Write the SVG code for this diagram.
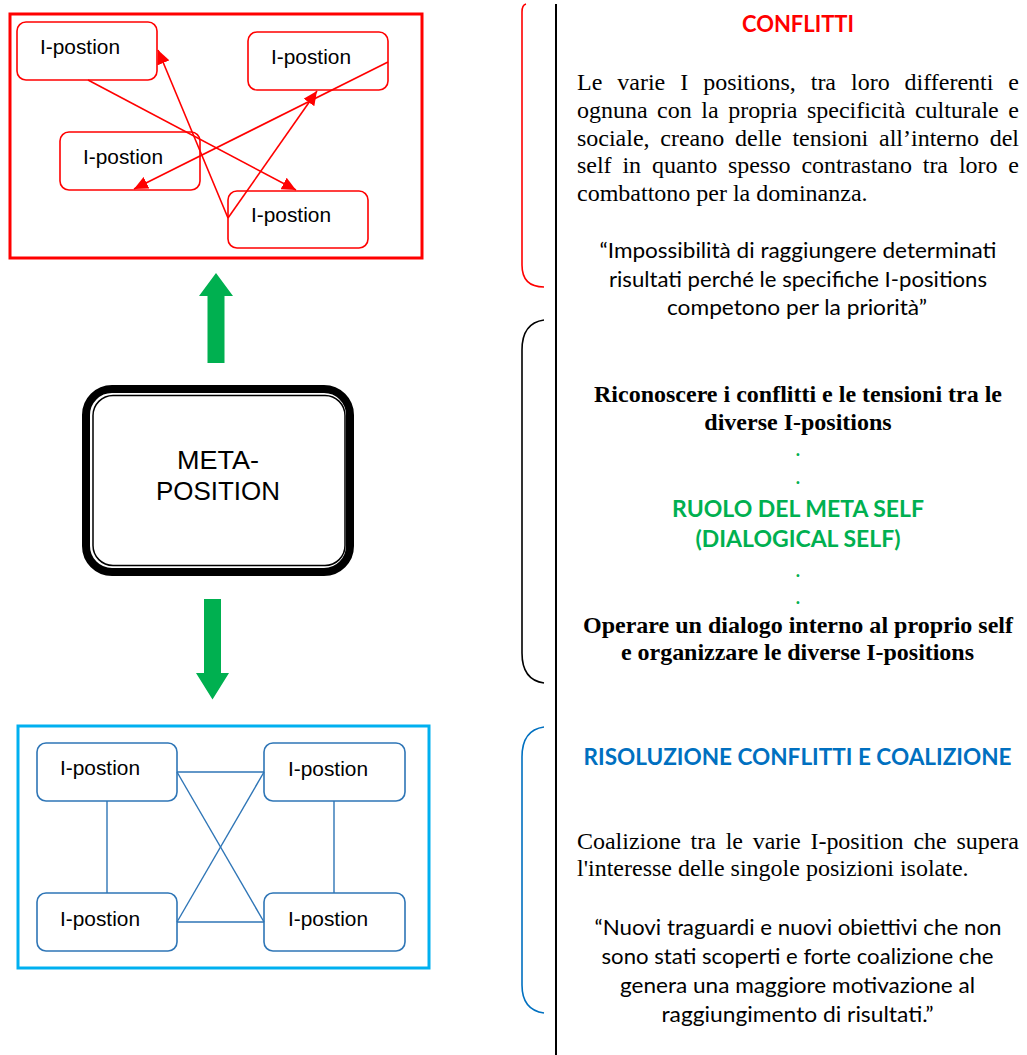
<svg xmlns="http://www.w3.org/2000/svg" width="1027" height="1055" viewBox="0 0 1027 1055">
<defs>
<style>
.rn{fill:#fff;stroke:#FF0000;stroke-width:1.6}
.bn{fill:#fff;stroke:#2E75B6;stroke-width:1.6}
.nt{font-family:"Liberation Sans",Arial,sans-serif;font-size:19.5px;fill:#000}
.rc{stroke:#FF0000;stroke-width:1.6;fill:none}
.bc{stroke:#2E75B6;stroke-width:1.4;fill:none}
.ser{font-family:"Liberation Serif","Times New Roman",serif;font-size:24px;fill:#000}
.serb{font-family:"Liberation Serif","Times New Roman",serif;font-size:24px;font-weight:bold;fill:#000;text-anchor:middle}
.cal{font-family:Lato,"Open Sans",sans-serif;font-size:22px;fill:#000;text-anchor:middle}
.calb{font-family:Lato,"Open Sans",sans-serif;font-size:22px;font-weight:bold;text-anchor:middle}
.dot{font-family:Lato,"Open Sans",sans-serif;font-size:18px;font-weight:bold;text-anchor:middle;fill:#00B050}
.grn{fill:#00B050}
</style>
<marker id="ah" markerUnits="userSpaceOnUse" markerWidth="14" markerHeight="13" refX="14" refY="6.5" orient="auto">
<path d="M0,0 L14,6.5 L0,13 z" fill="#FF0000"/>
</marker>
</defs>
<rect width="1027" height="1055" fill="#fff"/>

<!-- Conflict frame -->
<g id="conflict-frame">
<rect x="10" y="14" width="412" height="244" fill="#fff" stroke="#FF0000" stroke-width="3"/>
</g>
<g id="r-node1"><rect class="rn" x="17" y="22" width="140" height="58" rx="9"/><text class="nt" x="40" y="54" textLength="80" lengthAdjust="spacingAndGlyphs">I-postion</text></g>
<g id="r-node2"><rect class="rn" x="248" y="32" width="140" height="58" rx="9"/><text class="nt" x="271" y="64" textLength="80" lengthAdjust="spacingAndGlyphs">I-postion</text></g>
<g id="r-node3"><rect class="rn" x="60" y="132" width="140" height="58" rx="9"/><text class="nt" x="83" y="164" textLength="80" lengthAdjust="spacingAndGlyphs">I-postion</text></g>
<g id="r-node4"><rect class="rn" x="228" y="191" width="140" height="57" rx="9"/><text class="nt" x="251" y="222" textLength="80" lengthAdjust="spacingAndGlyphs">I-postion</text></g>
<g id="r-connectors">
<path class="rc" d="M88,80 L296,190" marker-end="url(#ah)"/>
<path class="rc" d="M228,218 L158,50" marker-end="url(#ah)"/>
<path class="rc" d="M228,218 L317,91" marker-end="url(#ah)"/>
<path class="rc" d="M388,62 L134,189" marker-end="url(#ah)"/>
</g>

<!-- Green arrows -->
<g id="green-arrows">
<polygon class="grn" points="216,273 233,296 224.5,296 224.5,363 207.5,363 207.5,296 199,296"/>
<polygon class="grn" points="204,599 221,599 221,673 229,673 212.5,699.5 196,673 204,673"/>
</g>

<!-- Meta position -->
<g id="meta-position">
<rect x="86" y="389" width="264" height="183" rx="26" fill="#fff" stroke="#000" stroke-width="8"/>
<rect x="93" y="395.5" width="252" height="170" rx="20" fill="none" stroke="#000" stroke-width="1.5"/>
<text x="218" y="469" text-anchor="middle" font-family="Liberation Sans, Arial, sans-serif" font-size="25" textLength="82" lengthAdjust="spacingAndGlyphs">META-</text>
<text x="218" y="500" text-anchor="middle" font-family="Liberation Sans, Arial, sans-serif" font-size="25" textLength="124" lengthAdjust="spacingAndGlyphs">POSITION</text>
</g>

<!-- Coalition frame -->
<g id="coalition-frame">
<rect x="18" y="726" width="411" height="242" fill="#fff" stroke="#00B0F0" stroke-width="3"/>
</g>
<g id="b-node1"><rect class="bn" x="37" y="743" width="140" height="58" rx="9"/><text class="nt" x="60" y="775" textLength="80" lengthAdjust="spacingAndGlyphs">I-postion</text></g>
<g id="b-node2"><rect class="bn" x="264" y="743" width="141" height="58" rx="9"/><text class="nt" x="288" y="776" textLength="80" lengthAdjust="spacingAndGlyphs">I-postion</text></g>
<g id="b-node3"><rect class="bn" x="37" y="893" width="140" height="58" rx="9"/><text class="nt" x="60" y="926" textLength="80" lengthAdjust="spacingAndGlyphs">I-postion</text></g>
<g id="b-node4"><rect class="bn" x="264" y="893" width="141" height="58" rx="9"/><text class="nt" x="288" y="926" textLength="80" lengthAdjust="spacingAndGlyphs">I-postion</text></g>
<g id="b-connectors">
<path class="bc" d="M177,772 L264,772"/>
<path class="bc" d="M177,772 L264,922"/>
<path class="bc" d="M177,922 L264,772"/>
<path class="bc" d="M177,922 L264,922"/>
<path class="bc" d="M107,801 L107,893"/>
<path class="bc" d="M334,801 L334,893"/>
</g>

<!-- Divider and brackets -->
<g id="divider">
<path d="M556,4 L556,1055" stroke="#000" stroke-width="2" fill="none"/>
<path d="M526,4 Q522,5 522,12 L522,265 Q522,287 544,287" stroke="#FF0000" stroke-width="1.6" fill="none"/>
<path d="M544,320 Q522,323 522,350 L522,653 Q522,680 544,683" stroke="#000" stroke-width="1.6" fill="none"/>
<path d="M544,727 Q522,730 522,757 L522,985 Q522,1010 544,1013" stroke="#0070C0" stroke-width="1.6" fill="none"/>
</g>

<!-- Conflict text -->
<g id="conflict-text">
<text class="calb" x="798" y="32" fill="#FF0000" textLength="112" lengthAdjust="spacingAndGlyphs">CONFLITTI</text>
<text class="ser" x="577" y="90" word-spacing="9" textLength="442" lengthAdjust="spacing">Le varie I positions, tra loro differenti e</text>
<text class="ser" x="577" y="118.3" word-spacing="3.6" textLength="442" lengthAdjust="spacing">ognuna con la propria specificità culturale e</text>
<text class="ser" x="577" y="146" word-spacing="4.8" textLength="442" lengthAdjust="spacing">sociale, creano delle tensioni all’interno del</text>
<text class="ser" x="577" y="173.3" word-spacing="4.9" textLength="442" lengthAdjust="spacing">self in quanto spesso contrastano tra loro e</text>
<text class="ser" x="577" y="201">combattono per la dominanza.</text>
<text class="cal" x="798" y="258.3" textLength="397" lengthAdjust="spacingAndGlyphs">“Impossibilità di raggiungere determinati</text>
<text class="cal" x="798" y="287.3" textLength="378" lengthAdjust="spacingAndGlyphs">risultati perché le specifiche I-positions</text>
<text class="cal" x="797" y="315" textLength="260" lengthAdjust="spacingAndGlyphs">competono per la priorità”</text>
</g>

<!-- Meta self text -->
<g id="meta-text">
<text class="serb" x="798" y="401.7" textLength="408">Riconoscere i conflitti e le tensioni tra le</text>
<text class="serb" x="798" y="430">diverse I-positions</text>
<text class="dot" x="798" y="456">.</text>
<text class="dot" x="798" y="483.5">.</text>
<text class="calb grn" x="798" y="516.7" textLength="252" lengthAdjust="spacingAndGlyphs">RUOLO DEL META SELF</text>
<text class="calb grn" x="798" y="547.3" textLength="205" lengthAdjust="spacingAndGlyphs">(DIALOGICAL SELF)</text>
<text class="dot" x="798" y="577">.</text>
<text class="dot" x="798" y="604">.</text>
<text class="serb" x="798" y="633.3" textLength="430">Operare un dialogo interno al proprio self</text>
<text class="serb" x="797.5" y="660" textLength="353">e organizzare le diverse I-positions</text>
</g>

<!-- Coalition text -->
<g id="coalition-text">
<text class="calb" x="797.5" y="765" fill="#0070C0" textLength="428" lengthAdjust="spacingAndGlyphs">RISOLUZIONE CONFLITTI E COALIZIONE</text>
<text class="ser" x="577" y="849.3" word-spacing="3.8" textLength="442" lengthAdjust="spacing">Coalizione tra le varie I-position che supera</text>
<text class="ser" x="577" y="876">l'interesse delle singole posizioni isolate.</text>
<text class="cal" x="798" y="935" textLength="407" lengthAdjust="spacingAndGlyphs">“Nuovi traguardi e nuovi obiettivi che non</text>
<text class="cal" x="797.5" y="964" textLength="392" lengthAdjust="spacingAndGlyphs">sono stati scoperti e forte coalizione che</text>
<text class="cal" x="797.5" y="992.7" textLength="355" lengthAdjust="spacingAndGlyphs">genera una maggiore motivazione al</text>
<text class="cal" x="797.5" y="1021.7" textLength="272" lengthAdjust="spacingAndGlyphs">raggiungimento di risultati.”</text>
</g>
</svg>
